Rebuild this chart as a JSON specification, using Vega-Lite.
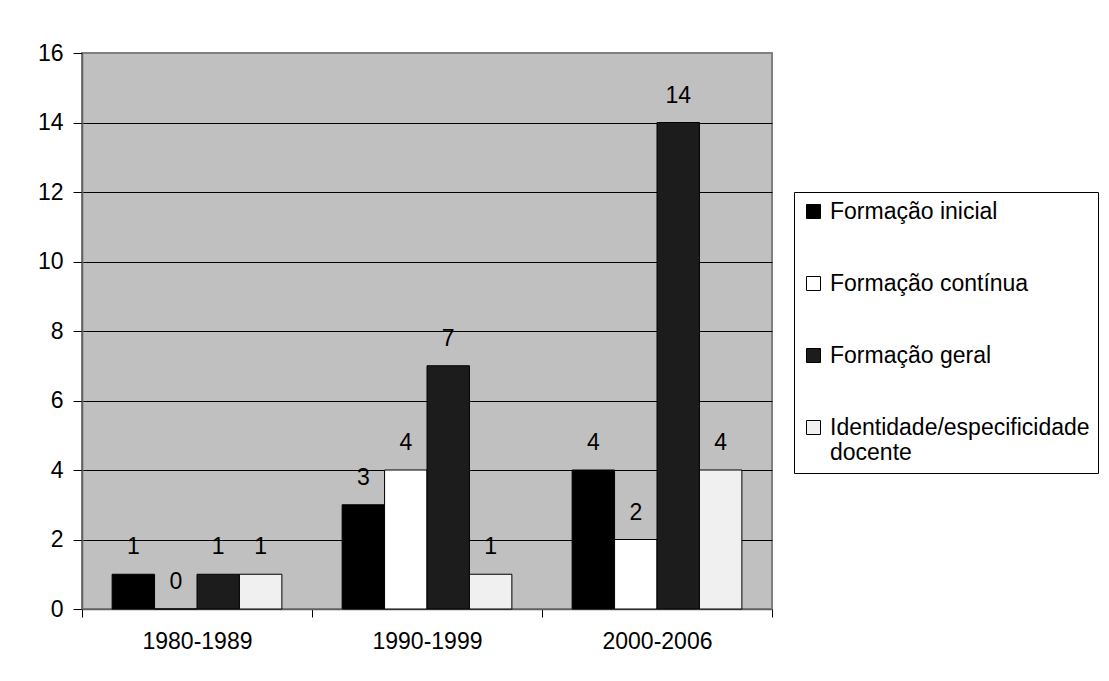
{
  "$schema": "https://vega.github.io/schema/vega-lite/v6.json",
  "autosize": {"type": "none"},
  "padding": {"left": 82, "top": 53, "right": 337, "bottom": 72},
  "width": 690,
  "height": 556,
  "background": "white",
  "config": {
    "font": "Liberation Sans",
    "view": {"fill": "#C0C0C0", "stroke": "#808080", "strokeWidth": 2},
    "axis": {"labelFont": "Liberation Sans", "labelFontSize": 23, "labelColor": "black", "domainColor": "#606060", "tickColor": "black"},
    "legend": {"labelFont": "Liberation Sans"}
  },
  "data": {
    "values": [
      {"periodo": "1980-1989", "categoria": "Formação inicial", "valor": 1},
      {"periodo": "1980-1989", "categoria": "Formação contínua", "valor": 0},
      {"periodo": "1980-1989", "categoria": "Formação geral", "valor": 1},
      {"periodo": "1980-1989", "categoria": "Identidade/especificidade docente", "valor": 1},
      {"periodo": "1990-1999", "categoria": "Formação inicial", "valor": 3},
      {"periodo": "1990-1999", "categoria": "Formação contínua", "valor": 4},
      {"periodo": "1990-1999", "categoria": "Formação geral", "valor": 7},
      {"periodo": "1990-1999", "categoria": "Identidade/especificidade docente", "valor": 1},
      {"periodo": "2000-2006", "categoria": "Formação inicial", "valor": 4},
      {"periodo": "2000-2006", "categoria": "Formação contínua", "valor": 2},
      {"periodo": "2000-2006", "categoria": "Formação geral", "valor": 14},
      {"periodo": "2000-2006", "categoria": "Identidade/especificidade docente", "valor": 4}
    ]
  },
  "encoding": {
    "x": {
      "field": "periodo", "type": "nominal", "sort": null,
      "scale": {"paddingInner": 0, "paddingOuter": 0},
      "axis": {"title": null, "labelAngle": 0, "tickBand": "extent", "tickSize": 8, "labelPadding": 13, "grid": false, "domainWidth": 1.5}
    },
    "xOffset": {
      "field": "categoria", "type": "nominal",
      "sort": ["Formação inicial", "Formação contínua", "Formação geral", "Identidade/especificidade docente"],
      "scale": {"paddingInner": 0, "paddingOuter": 0.71}
    },
    "y": {
      "field": "valor", "type": "quantitative",
      "scale": {"domain": [0, 16], "nice": false, "zero": true},
      "axis": {
        "title": null, "values": [0, 2, 4, 6, 8, 10, 12, 14, 16], "grid": true,
        "gridColor": {"condition": {"test": "datum.value === 16", "value": "#808080"}, "value": "black"},
        "gridWidth": 1, "tickSize": 9, "labelPadding": 10, "domainWidth": 1.5
      }
    }
  },
  "layer": [
    {
      "mark": {"type": "bar", "stroke": "black", "strokeWidth": 1},
      "encoding": {
        "color": {
          "field": "categoria", "type": "nominal",
          "scale": {
            "domain": ["Formação inicial", "Formação contínua", "Formação geral", "Identidade/especificidade docente"],
            "range": ["#000000", "#ffffff", "#1c1c1c", "#f0f0f0"]
          },
          "legend": {
            "title": null,
            "orient": "none",
            "legendX": 712,
            "legendY": 139,
            "padding": 8,
            "strokeColor": "black",
            "fillColor": "white",
            "symbolType": "square",
            "symbolSize": 196,
            "symbolStrokeColor": "black",
            "symbolStrokeWidth": 1,
            "labelFontSize": 23,
            "labelColor": "black",
            "labelOffset": 5,
            "labelLimit": 400,
            "rowPadding": 48,
            "labelExpr": "datum.label === 'Identidade/especificidade docente' ? ['Identidade/especificidade\u00a0\u00a0\u00a0\u00a0\u00a0\u00a0\u00a0\u00a0\u00a0\u00a0\u00a0\u00a0', 'docente'] : datum.label"
          }
        }
      }
    },
    {
      "mark": {"type": "text", "fontSize": 23, "baseline": "middle", "dy": -27, "color": "black", "font": "Liberation Sans"},
      "encoding": {
        "text": {"field": "valor", "type": "quantitative"}
      }
    }
  ]
}
